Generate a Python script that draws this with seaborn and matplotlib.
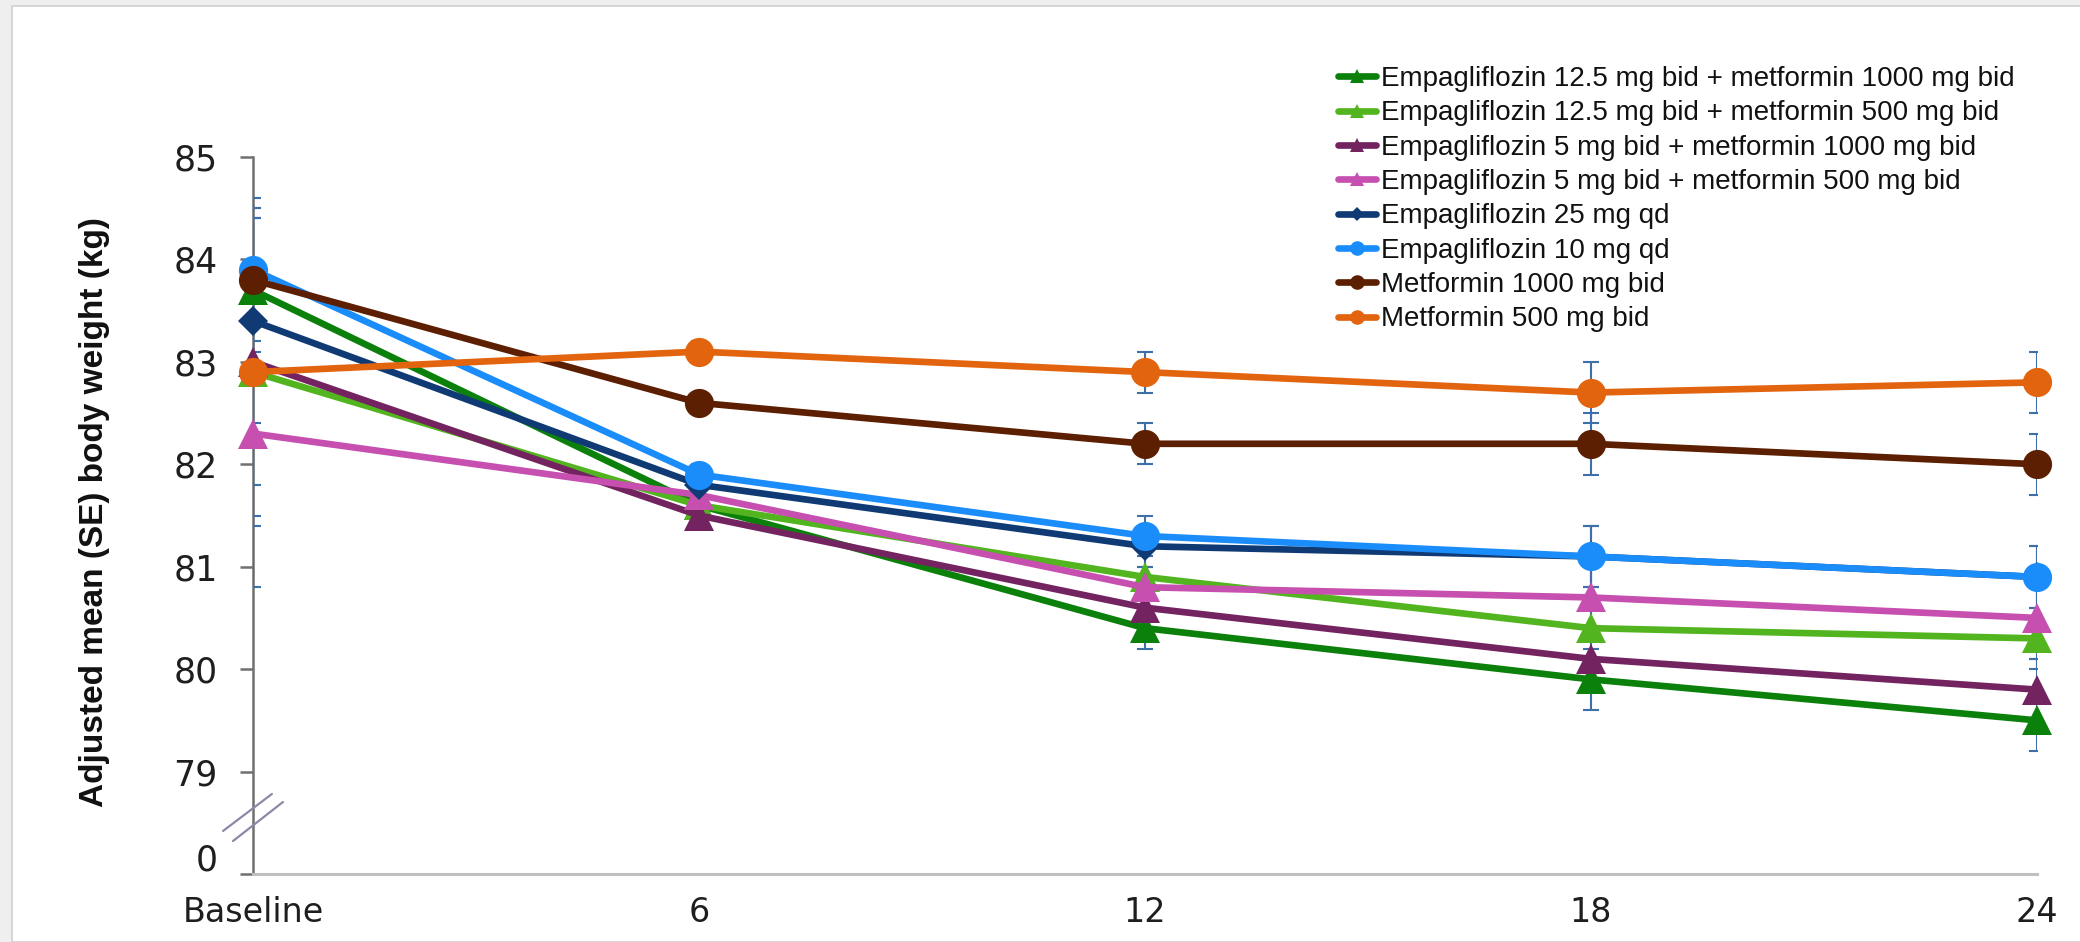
import numpy as np
import pandas as pd
import seaborn as sns
import matplotlib.pyplot as plt
import matplotlib.transforms as mtransforms
from matplotlib.patches import Rectangle

# 数据
weeks = ["Baseline", "6", "12", "18", "24"]
groups = ["Empagliflozin 12.5 mg bid + metformin 1000 mg bid",
          "Empagliflozin 12.5 mg bid + metformin 500 mg bid",
          "Empagliflozin 5 mg bid + metformin 1000 mg bid",
          "Empagliflozin 5 mg bid + metformin 500 mg bid",
          "Empagliflozin 25 mg qd",
          "Empagliflozin 10 mg qd",
          "Metformin 1000 mg bid",
          "Metformin 500 mg bid"]
e125_m1000 = [83.7, 81.6, 80.4, 79.9, 79.5]
e125_m500 = [82.9, 81.6, 80.9, 80.4, 80.3]
e5_m1000 = [83.0, 81.5, 80.6, 80.1, 79.8]
e5_m500 = [82.3, 81.7, 80.8, 80.7, 80.5]
e25 = [83.4, 81.8, 81.2, 81.1, 80.9]
e10 = [83.9, 81.9, 81.3, 81.1, 80.9]
m1000 = [83.8, 82.6, 82.2, 82.2, 82.0]
m500 = [82.9, 83.1, 82.9, 82.7, 82.8]
se_e125_m1000 = [0.7, 0.1, 0.2, 0.3, 0.3]
se_e125_m500 = [1.5, 0.1, 0.2, 0.3, 0.3]
se_e5_m1000 = [1.5, 0.1, 0.2, 0.3, 0.3]
se_e5_m500 = [1.5, 0.1, 0.2, 0.3, 0.4]
se_e25 = [1.0, 0.1, 0.2, 0.3, 0.3]
se_e10 = [0.7, 0.1, 0.2, 0.3, 0.3]
se_m1000 = [0.7, 0.1, 0.2, 0.3, 0.3]
se_m500 = [1.1, 0.1, 0.2, 0.3, 0.3]
y_ticks = [78, 79, 80, 81, 82, 83, 84, 85]
y_ticklabels = ["0", "79", "80", "81", "82", "83", "84", "85"]

values = [e125_m1000, e125_m500, e5_m1000, e5_m500, e25, e10, m1000, m500]
errors = [se_e125_m1000, se_e125_m500, se_e5_m1000, se_e5_m500, se_e25, se_e10, se_m1000, se_m500]
colors = ["#0b800b", "#52b41e", "#732460", "#c64fb0", "#0f3a74", "#1b8dfb", "#5c1f02", "#e2640e"]
markers = ["^", "^", "^", "^", "D", "o", "o", "o"]
msizes = [21, 21, 21, 21, 15, 21, 21, 21]

sns.set_theme(style="white")
plt.rcParams['font.family'] = ['DejaVu Sans']

fig = plt.figure(figsize=(20.8, 9.42), dpi=100, facecolor="#efefef")
fig.add_artist(Rectangle((12 / 2080, 0), 1, 1 - 6 / 942, transform=fig.transFigure,
                         facecolor="white", edgecolor="#d0d0d0", lw=1.2, zorder=-1))
ax = fig.add_axes([253 / 2080, 68 / 942, 1784 / 2080, 717 / 942])
ax.set_facecolor("none")

xs = np.arange(len(weeks))
for name, vals, err, c, m, ms in zip(groups, values, errors, colors, markers, msizes):
    ax.errorbar(xs, vals, yerr=err, fmt="none", ecolor="#3f6fa8", elinewidth=1.5,
                capsize=6, capthick=1.5, zorder=3)
    sns.lineplot(x=xs, y=vals, ax=ax, color=c, marker=m, markersize=ms, markeredgewidth=0,
                 linewidth=4.8, label=name, zorder=4, clip_on=False)

ax.set_xlim(0, len(weeks) - 1)
ax.set_ylim(78, 85)
ax.set_xticks(xs)
ax.set_xticklabels(weeks)
ax.set_yticks(y_ticks)
ax.set_yticklabels(y_ticklabels)
ax.tick_params(axis="y", length=9.5, width=1.8, color="#707070", pad=16, labelsize=25,
               labelcolor="#1e1e1e", left=True)
ax.tick_params(axis="x", length=0, pad=16, labelsize=24, labelcolor="#1e1e1e")

for s in ["top", "right"]:
    ax.spines[s].set_visible(False)
ax.spines["left"].set_color("#707070")
ax.spines["left"].set_linewidth(1.8)
ax.spines["bottom"].set_color("#bfbfbf")
ax.spines["bottom"].set_linewidth(2.2)

# "0" 标签往上挪一点
offset = mtransforms.ScaledTranslation(0, 17 / 100, fig.dpi_scale_trans)
lab0 = ax.yaxis.get_major_ticks()[0].label1
lab0.set_transform(lab0.get_transform() + offset)

# 断轴符号
for (x0, y0, x1, y1) in [(-0.0168, 0.060, 0.0106, 0.1116), (-0.0112, 0.046, 0.0168, 0.1004)]:
    ax.plot([x0, x1], [y0, y1], transform=ax.transAxes, color="#8a8aa8", lw=1.6, clip_on=False, zorder=5)

ax.set_ylabel("Adjusted mean (SE) body weight (kg)", fontsize=24, fontweight="bold",
              family=['Liberation Sans', 'DejaVu Sans'], color="#111111")
ax.yaxis.set_label_coords(-0.08, 0.505)

ax.legend_.remove()
handles, labels = ax.get_legend_handles_labels()
fig.legend(handles, labels, loc="upper left", bbox_to_anchor=(1338 / 2080, 1 - 66 / 942),
           frameon=False, prop={"family": ['Liberation Sans', 'DejaVu Sans'], "size": 20},
           handlelength=1.35, handletextpad=0.2, labelspacing=0.3, markerscale=0.5,
           borderpad=0, borderaxespad=0, labelcolor="#111111")

fig.savefig("out.png", dpi=100, facecolor=fig.get_facecolor())
